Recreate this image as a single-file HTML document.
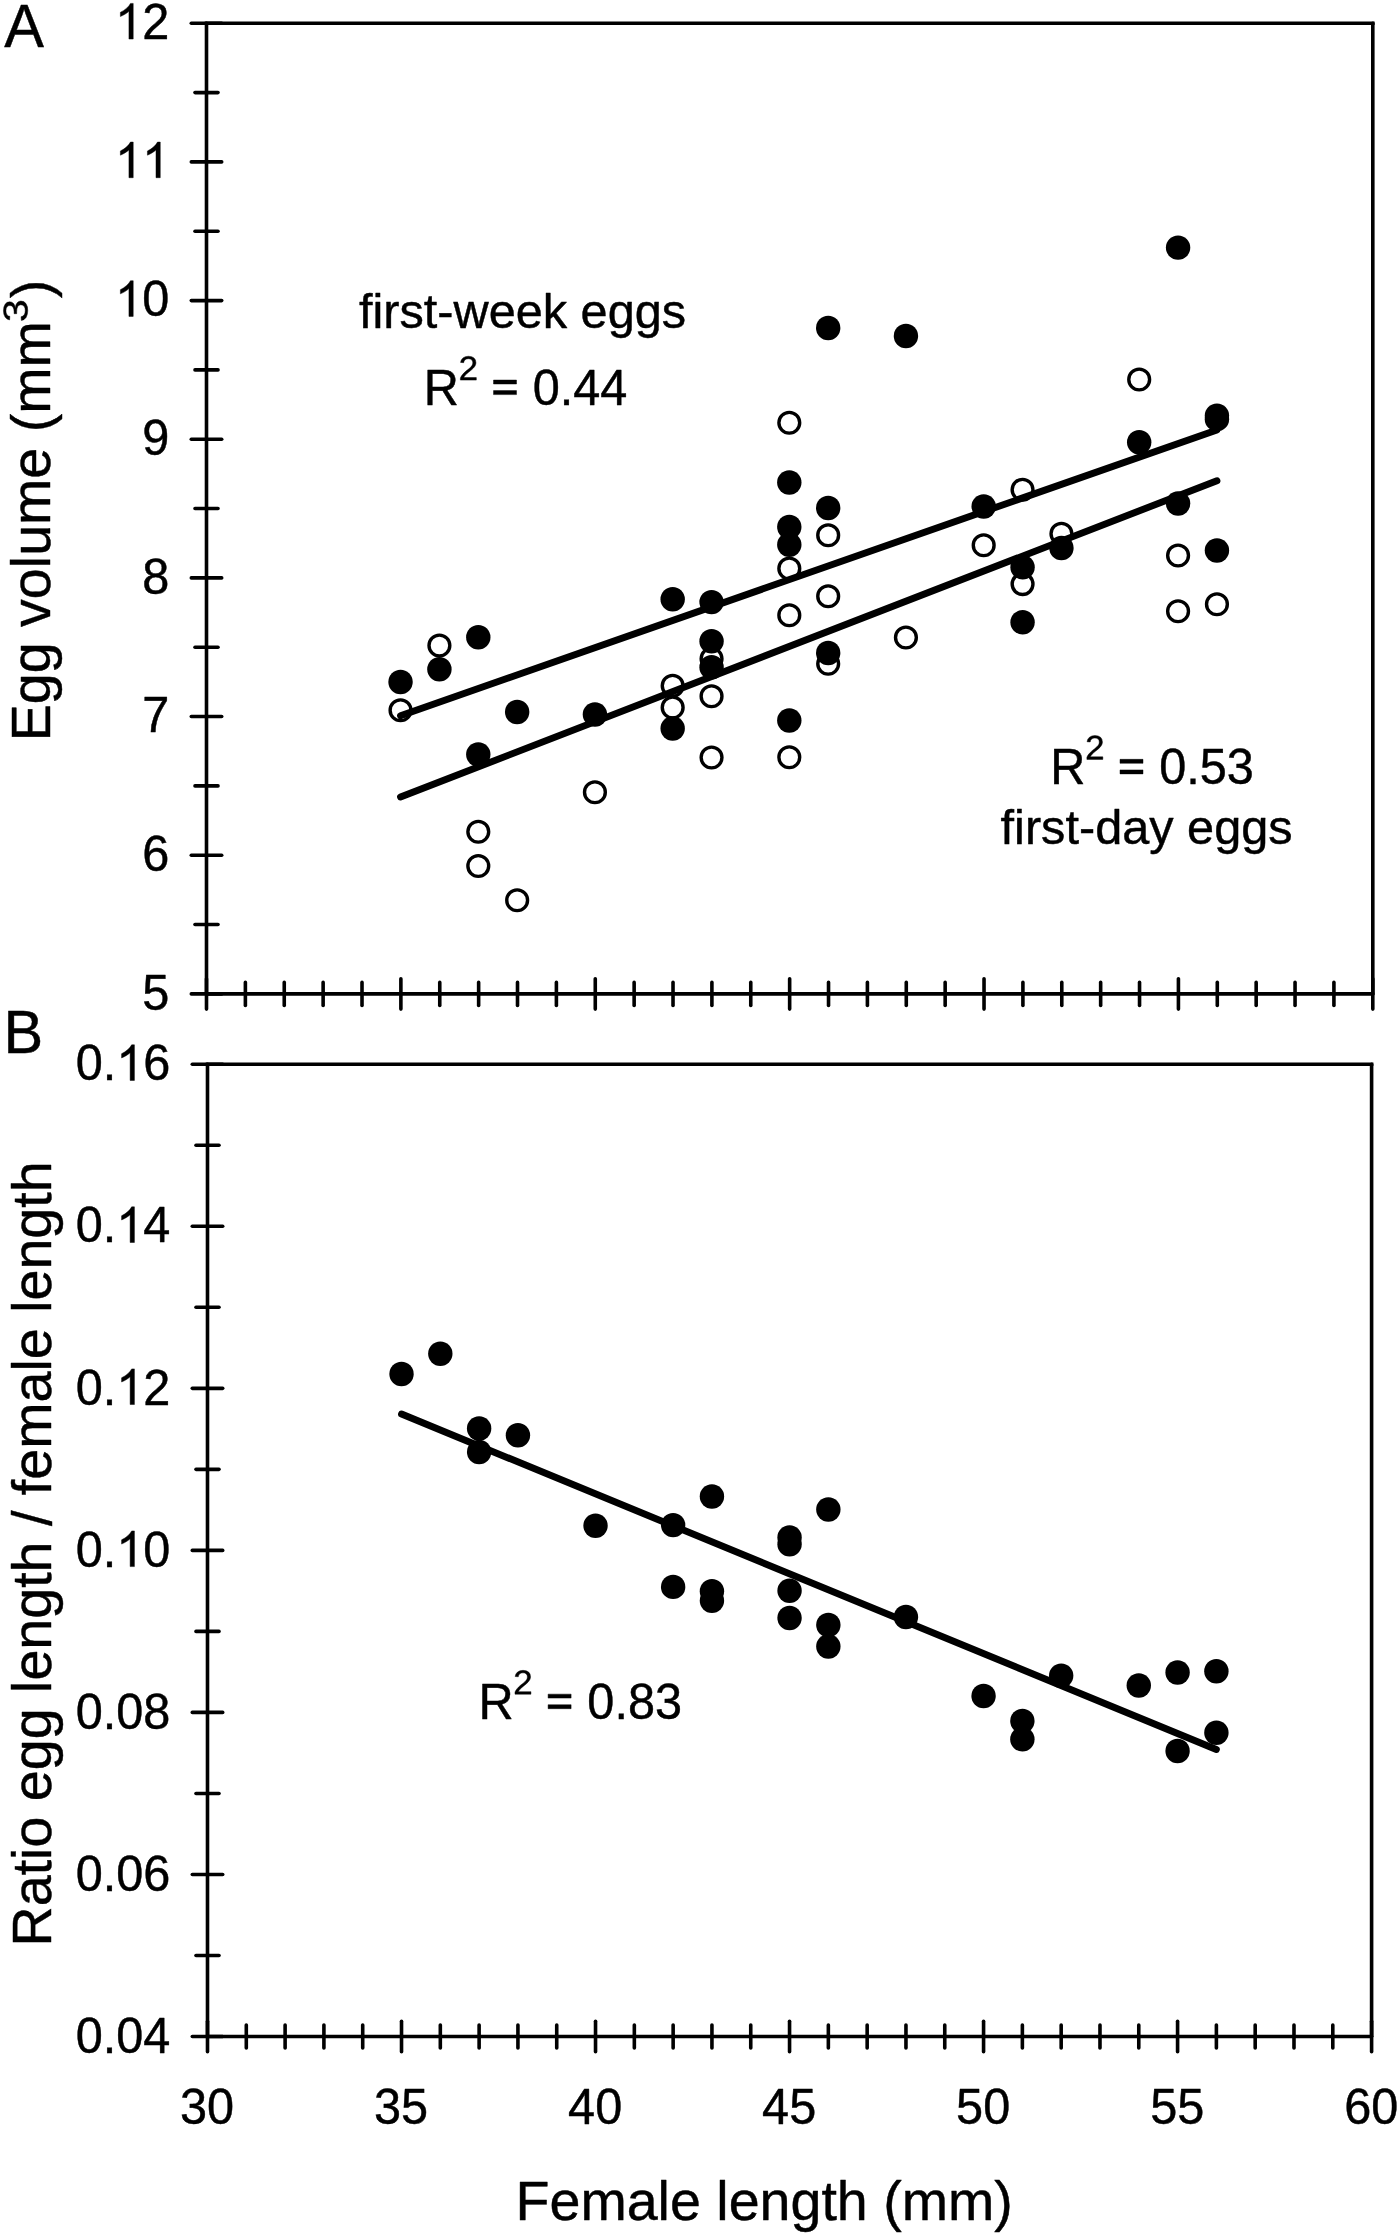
<!DOCTYPE html>
<html>
<head>
<meta charset="utf-8">
<title>Figure</title>
<style>
html, body { margin: 0; padding: 0; background: #fff; }
body { width: 1400px; height: 2235px; overflow: hidden; font-family: "Liberation Sans", sans-serif; }
svg { display: block; }
svg text, svg path { stroke: #000; stroke-width: 0.45px; stroke-linejoin: round; vector-effect: non-scaling-stroke; }
</style>
</head>
<body>
<svg width="1400" height="2235" viewBox="0 0 1400 2235" role="img" aria-label="Scatter plots of egg volume and egg/female length ratio against female length">
<rect x="0" y="0" width="1400" height="2235" fill="#fff"/>
<g font-family="'Liberation Sans', sans-serif" fill="#000" stroke="none">
<g fill="#fff" stroke="#000" stroke-width="3.4">
<circle cx="400.53" cy="710.25" r="10.4"/>
<circle cx="439.41" cy="645.5" r="10.4"/>
<circle cx="478.29" cy="831.75" r="10.4"/>
<circle cx="478.29" cy="866" r="10.4"/>
<circle cx="517.16" cy="900.25" r="10.4"/>
<circle cx="594.92" cy="792.25" r="10.4"/>
<circle cx="672.67" cy="685.75" r="10.4"/>
<circle cx="672.67" cy="707.5" r="10.4"/>
<circle cx="711.55" cy="658.75" r="10.4"/>
<circle cx="711.55" cy="696.25" r="10.4"/>
<circle cx="711.55" cy="757.5" r="10.4"/>
<circle cx="789.3" cy="422.75" r="10.4"/>
<circle cx="789.3" cy="568.5" r="10.4"/>
<circle cx="789.3" cy="615.25" r="10.4"/>
<circle cx="789.3" cy="757.25" r="10.4"/>
<circle cx="828.18" cy="535.25" r="10.4"/>
<circle cx="828.18" cy="596.25" r="10.4"/>
<circle cx="828.18" cy="663.75" r="10.4"/>
<circle cx="905.93" cy="637.5" r="10.4"/>
<circle cx="983.68" cy="545.25" r="10.4"/>
<circle cx="1022.56" cy="489.75" r="10.4"/>
<circle cx="1022.56" cy="584.1" r="10.4"/>
<circle cx="1061.44" cy="533.75" r="10.4"/>
<circle cx="1139.19" cy="379.5" r="10.4"/>
<circle cx="1178.07" cy="555.5" r="10.4"/>
<circle cx="1178.07" cy="611.25" r="10.4"/>
<circle cx="1216.94" cy="604.25" r="10.4"/>
</g>
<g fill="#000">
<circle cx="400.53" cy="682" r="12.2"/>
<circle cx="439.41" cy="669.25" r="12.2"/>
<circle cx="478.29" cy="637.25" r="12.2"/>
<circle cx="478.29" cy="754.5" r="12.2"/>
<circle cx="517.16" cy="712" r="12.2"/>
<circle cx="594.92" cy="714.5" r="12.2"/>
<circle cx="672.67" cy="599.25" r="12.2"/>
<circle cx="672.67" cy="728.5" r="12.2"/>
<circle cx="711.55" cy="602.1" r="12.2"/>
<circle cx="711.55" cy="641.25" r="12.2"/>
<circle cx="711.55" cy="667.25" r="12.2"/>
<circle cx="789.3" cy="482.5" r="12.2"/>
<circle cx="789.3" cy="527" r="12.2"/>
<circle cx="789.3" cy="544.75" r="12.2"/>
<circle cx="789.3" cy="720.5" r="12.2"/>
<circle cx="828.18" cy="328" r="12.2"/>
<circle cx="828.18" cy="508" r="12.2"/>
<circle cx="828.18" cy="653" r="12.2"/>
<circle cx="905.93" cy="336" r="12.2"/>
<circle cx="983.68" cy="506.5" r="12.2"/>
<circle cx="1022.56" cy="567.25" r="12.2"/>
<circle cx="1022.56" cy="622.25" r="12.2"/>
<circle cx="1061.44" cy="548" r="12.2"/>
<circle cx="1139.19" cy="442.25" r="12.2"/>
<circle cx="1178.07" cy="247.6" r="12.2"/>
<circle cx="1178.07" cy="503.5" r="12.2"/>
<circle cx="1216.94" cy="415.6" r="12.2"/>
<circle cx="1216.94" cy="419.2" r="12.2"/>
<circle cx="1216.94" cy="550.5" r="12.2"/>
</g>
<line x1="400.53" y1="715.75" x2="1216.94" y2="429.9" stroke="#000" stroke-width="6.9" stroke-linecap="round"/>
<line x1="400.53" y1="797" x2="1216.94" y2="480.75" stroke="#000" stroke-width="6.9" stroke-linecap="round"/>
<line x1="206.5" y1="23.25" x2="206.5" y2="993.9" stroke="#000" stroke-width="3.6" stroke-linecap="round"/>
<line x1="206.5" y1="23.25" x2="1372.8" y2="23.25" stroke="#000" stroke-width="3.6" stroke-linecap="square"/>
<line x1="1372.8" y1="23.25" x2="1372.8" y2="993.9" stroke="#000" stroke-width="3.6" stroke-linecap="round"/>
<line x1="206.5" y1="993.9" x2="1372.8" y2="993.9" stroke="#000" stroke-width="3.6" stroke-linecap="round"/>
<line x1="191.3" y1="23.25" x2="221.7" y2="23.25" stroke="#000" stroke-width="3.6" stroke-linecap="round"/>
<path transform="translate(115.09 39.05) scale(0.023755 -0.024218)" d="M763 0H583V1147Q518 1085 412.5 1023Q307 961 223 930V1104Q374 1175 487 1276Q600 1377 647 1472H763Z"/>
<text transform="translate(142.14 39.05) scale(1.0000 1.0350)" font-size="48.65" text-anchor="start">2</text>
<line x1="195" y1="92.58" x2="218" y2="92.58" stroke="#000" stroke-width="3.6" stroke-linecap="round"/>
<line x1="191.3" y1="161.91" x2="221.7" y2="161.91" stroke="#000" stroke-width="3.6" stroke-linecap="round"/>
<path transform="translate(115.09 177.71) scale(0.023755 -0.024218)" d="M763 0H583V1147Q518 1085 412.5 1023Q307 961 223 930V1104Q374 1175 487 1276Q600 1377 647 1472H763Z"/>
<path transform="translate(142.14 177.71) scale(0.023755 -0.024218)" d="M763 0H583V1147Q518 1085 412.5 1023Q307 961 223 930V1104Q374 1175 487 1276Q600 1377 647 1472H763Z"/>
<line x1="195" y1="231.25" x2="218" y2="231.25" stroke="#000" stroke-width="3.6" stroke-linecap="round"/>
<line x1="191.3" y1="300.58" x2="221.7" y2="300.58" stroke="#000" stroke-width="3.6" stroke-linecap="round"/>
<path transform="translate(115.09 316.38) scale(0.023755 -0.024218)" d="M763 0H583V1147Q518 1085 412.5 1023Q307 961 223 930V1104Q374 1175 487 1276Q600 1377 647 1472H763Z"/>
<text transform="translate(142.14 316.38) scale(1.0000 1.0350)" font-size="48.65" text-anchor="start">0</text>
<line x1="195" y1="369.91" x2="218" y2="369.91" stroke="#000" stroke-width="3.6" stroke-linecap="round"/>
<line x1="191.3" y1="439.24" x2="221.7" y2="439.24" stroke="#000" stroke-width="3.6" stroke-linecap="round"/>
<text transform="translate(142.14 455.04) scale(1.0000 1.0350)" font-size="48.65" text-anchor="start">9</text>
<line x1="195" y1="508.57" x2="218" y2="508.57" stroke="#000" stroke-width="3.6" stroke-linecap="round"/>
<line x1="191.3" y1="577.91" x2="221.7" y2="577.91" stroke="#000" stroke-width="3.6" stroke-linecap="round"/>
<text transform="translate(142.14 593.71) scale(1.0000 1.0350)" font-size="48.65" text-anchor="start">8</text>
<line x1="195" y1="647.24" x2="218" y2="647.24" stroke="#000" stroke-width="3.6" stroke-linecap="round"/>
<line x1="191.3" y1="716.57" x2="221.7" y2="716.57" stroke="#000" stroke-width="3.6" stroke-linecap="round"/>
<text transform="translate(142.14 732.37) scale(1.0000 1.0350)" font-size="48.65" text-anchor="start">7</text>
<line x1="195" y1="785.9" x2="218" y2="785.9" stroke="#000" stroke-width="3.6" stroke-linecap="round"/>
<line x1="191.3" y1="855.24" x2="221.7" y2="855.24" stroke="#000" stroke-width="3.6" stroke-linecap="round"/>
<text transform="translate(142.14 871.04) scale(1.0000 1.0350)" font-size="48.65" text-anchor="start">6</text>
<line x1="195" y1="924.57" x2="218" y2="924.57" stroke="#000" stroke-width="3.6" stroke-linecap="round"/>
<line x1="191.3" y1="993.9" x2="221.7" y2="993.9" stroke="#000" stroke-width="3.6" stroke-linecap="round"/>
<text transform="translate(142.14 1009.7) scale(1.0000 1.0350)" font-size="48.65" text-anchor="start">5</text>
<line x1="206.5" y1="978.7" x2="206.5" y2="1009.1" stroke="#000" stroke-width="3.6" stroke-linecap="round"/>
<line x1="245.38" y1="982.4" x2="245.38" y2="1005.4" stroke="#000" stroke-width="3.6" stroke-linecap="round"/>
<line x1="284.25" y1="982.4" x2="284.25" y2="1005.4" stroke="#000" stroke-width="3.6" stroke-linecap="round"/>
<line x1="323.13" y1="982.4" x2="323.13" y2="1005.4" stroke="#000" stroke-width="3.6" stroke-linecap="round"/>
<line x1="362.01" y1="982.4" x2="362.01" y2="1005.4" stroke="#000" stroke-width="3.6" stroke-linecap="round"/>
<line x1="400.88" y1="978.7" x2="400.88" y2="1009.1" stroke="#000" stroke-width="3.6" stroke-linecap="round"/>
<line x1="439.76" y1="982.4" x2="439.76" y2="1005.4" stroke="#000" stroke-width="3.6" stroke-linecap="round"/>
<line x1="478.64" y1="982.4" x2="478.64" y2="1005.4" stroke="#000" stroke-width="3.6" stroke-linecap="round"/>
<line x1="517.51" y1="982.4" x2="517.51" y2="1005.4" stroke="#000" stroke-width="3.6" stroke-linecap="round"/>
<line x1="556.39" y1="982.4" x2="556.39" y2="1005.4" stroke="#000" stroke-width="3.6" stroke-linecap="round"/>
<line x1="595.27" y1="978.7" x2="595.27" y2="1009.1" stroke="#000" stroke-width="3.6" stroke-linecap="round"/>
<line x1="634.14" y1="982.4" x2="634.14" y2="1005.4" stroke="#000" stroke-width="3.6" stroke-linecap="round"/>
<line x1="673.02" y1="982.4" x2="673.02" y2="1005.4" stroke="#000" stroke-width="3.6" stroke-linecap="round"/>
<line x1="711.9" y1="982.4" x2="711.9" y2="1005.4" stroke="#000" stroke-width="3.6" stroke-linecap="round"/>
<line x1="750.77" y1="982.4" x2="750.77" y2="1005.4" stroke="#000" stroke-width="3.6" stroke-linecap="round"/>
<line x1="789.65" y1="978.7" x2="789.65" y2="1009.1" stroke="#000" stroke-width="3.6" stroke-linecap="round"/>
<line x1="828.53" y1="982.4" x2="828.53" y2="1005.4" stroke="#000" stroke-width="3.6" stroke-linecap="round"/>
<line x1="867.4" y1="982.4" x2="867.4" y2="1005.4" stroke="#000" stroke-width="3.6" stroke-linecap="round"/>
<line x1="906.28" y1="982.4" x2="906.28" y2="1005.4" stroke="#000" stroke-width="3.6" stroke-linecap="round"/>
<line x1="945.16" y1="982.4" x2="945.16" y2="1005.4" stroke="#000" stroke-width="3.6" stroke-linecap="round"/>
<line x1="984.03" y1="978.7" x2="984.03" y2="1009.1" stroke="#000" stroke-width="3.6" stroke-linecap="round"/>
<line x1="1022.91" y1="982.4" x2="1022.91" y2="1005.4" stroke="#000" stroke-width="3.6" stroke-linecap="round"/>
<line x1="1061.79" y1="982.4" x2="1061.79" y2="1005.4" stroke="#000" stroke-width="3.6" stroke-linecap="round"/>
<line x1="1100.66" y1="982.4" x2="1100.66" y2="1005.4" stroke="#000" stroke-width="3.6" stroke-linecap="round"/>
<line x1="1139.54" y1="982.4" x2="1139.54" y2="1005.4" stroke="#000" stroke-width="3.6" stroke-linecap="round"/>
<line x1="1178.42" y1="978.7" x2="1178.42" y2="1009.1" stroke="#000" stroke-width="3.6" stroke-linecap="round"/>
<line x1="1217.29" y1="982.4" x2="1217.29" y2="1005.4" stroke="#000" stroke-width="3.6" stroke-linecap="round"/>
<line x1="1256.17" y1="982.4" x2="1256.17" y2="1005.4" stroke="#000" stroke-width="3.6" stroke-linecap="round"/>
<line x1="1295.05" y1="982.4" x2="1295.05" y2="1005.4" stroke="#000" stroke-width="3.6" stroke-linecap="round"/>
<line x1="1333.92" y1="982.4" x2="1333.92" y2="1005.4" stroke="#000" stroke-width="3.6" stroke-linecap="round"/>
<line x1="1372.8" y1="978.7" x2="1372.8" y2="1009.1" stroke="#000" stroke-width="3.6" stroke-linecap="round"/>
<g fill="#000">
<circle cx="401.52" cy="1374" r="12.2"/>
<circle cx="440.32" cy="1353.75" r="12.2"/>
<circle cx="479.12" cy="1428.5" r="12.2"/>
<circle cx="479.12" cy="1452" r="12.2"/>
<circle cx="517.93" cy="1435.25" r="12.2"/>
<circle cx="595.53" cy="1525.75" r="12.2"/>
<circle cx="673.14" cy="1525.1" r="12.2"/>
<circle cx="673.14" cy="1586.9" r="12.2"/>
<circle cx="711.94" cy="1496.5" r="12.2"/>
<circle cx="711.94" cy="1591.25" r="12.2"/>
<circle cx="711.94" cy="1600.75" r="12.2"/>
<circle cx="789.55" cy="1537.5" r="12.2"/>
<circle cx="789.55" cy="1544.25" r="12.2"/>
<circle cx="789.55" cy="1590.75" r="12.2"/>
<circle cx="789.55" cy="1618" r="12.2"/>
<circle cx="828.35" cy="1509.5" r="12.2"/>
<circle cx="828.35" cy="1625" r="12.2"/>
<circle cx="828.35" cy="1646.5" r="12.2"/>
<circle cx="905.96" cy="1617" r="12.2"/>
<circle cx="983.57" cy="1696" r="12.2"/>
<circle cx="1022.37" cy="1721" r="12.2"/>
<circle cx="1022.37" cy="1739.25" r="12.2"/>
<circle cx="1061.17" cy="1675.75" r="12.2"/>
<circle cx="1138.78" cy="1685.5" r="12.2"/>
<circle cx="1177.58" cy="1672.5" r="12.2"/>
<circle cx="1177.58" cy="1751" r="12.2"/>
<circle cx="1216.39" cy="1671.25" r="12.2"/>
<circle cx="1216.39" cy="1732.75" r="12.2"/>
</g>
<line x1="401.52" y1="1414" x2="1216.39" y2="1749.5" stroke="#000" stroke-width="6.9" stroke-linecap="round"/>
<line x1="207.5" y1="1064.25" x2="207.5" y2="2036.5" stroke="#000" stroke-width="3.6" stroke-linecap="round"/>
<line x1="207.5" y1="1064.25" x2="1371.6" y2="1064.25" stroke="#000" stroke-width="3.6" stroke-linecap="square"/>
<line x1="1371.6" y1="1064.25" x2="1371.6" y2="2036.5" stroke="#000" stroke-width="3.6" stroke-linecap="round"/>
<line x1="207.5" y1="2036.5" x2="1371.6" y2="2036.5" stroke="#000" stroke-width="3.6" stroke-linecap="round"/>
<line x1="192.3" y1="1064.25" x2="222.7" y2="1064.25" stroke="#000" stroke-width="3.6" stroke-linecap="round"/>
<text transform="translate(75.71 1080.45) scale(1.0000 1.0350)" font-size="48.65" text-anchor="start">0.</text>
<path transform="translate(116.29 1080.45) scale(0.023755 -0.024218)" d="M763 0H583V1147Q518 1085 412.5 1023Q307 961 223 930V1104Q374 1175 487 1276Q600 1377 647 1472H763Z"/>
<text transform="translate(143.34 1080.45) scale(1.0000 1.0350)" font-size="48.65" text-anchor="start">6</text>
<line x1="196" y1="1145.27" x2="219" y2="1145.27" stroke="#000" stroke-width="3.6" stroke-linecap="round"/>
<line x1="192.3" y1="1226.29" x2="222.7" y2="1226.29" stroke="#000" stroke-width="3.6" stroke-linecap="round"/>
<text transform="translate(75.71 1242.49) scale(1.0000 1.0350)" font-size="48.65" text-anchor="start">0.</text>
<path transform="translate(116.29 1242.49) scale(0.023755 -0.024218)" d="M763 0H583V1147Q518 1085 412.5 1023Q307 961 223 930V1104Q374 1175 487 1276Q600 1377 647 1472H763Z"/>
<text transform="translate(143.34 1242.49) scale(1.0000 1.0350)" font-size="48.65" text-anchor="start">4</text>
<line x1="196" y1="1307.31" x2="219" y2="1307.31" stroke="#000" stroke-width="3.6" stroke-linecap="round"/>
<line x1="192.3" y1="1388.33" x2="222.7" y2="1388.33" stroke="#000" stroke-width="3.6" stroke-linecap="round"/>
<text transform="translate(75.71 1404.53) scale(1.0000 1.0350)" font-size="48.65" text-anchor="start">0.</text>
<path transform="translate(116.29 1404.53) scale(0.023755 -0.024218)" d="M763 0H583V1147Q518 1085 412.5 1023Q307 961 223 930V1104Q374 1175 487 1276Q600 1377 647 1472H763Z"/>
<text transform="translate(143.34 1404.53) scale(1.0000 1.0350)" font-size="48.65" text-anchor="start">2</text>
<line x1="196" y1="1469.35" x2="219" y2="1469.35" stroke="#000" stroke-width="3.6" stroke-linecap="round"/>
<line x1="192.3" y1="1550.38" x2="222.7" y2="1550.38" stroke="#000" stroke-width="3.6" stroke-linecap="round"/>
<text transform="translate(75.71 1566.58) scale(1.0000 1.0350)" font-size="48.65" text-anchor="start">0.</text>
<path transform="translate(116.29 1566.58) scale(0.023755 -0.024218)" d="M763 0H583V1147Q518 1085 412.5 1023Q307 961 223 930V1104Q374 1175 487 1276Q600 1377 647 1472H763Z"/>
<text transform="translate(143.34 1566.58) scale(1.0000 1.0350)" font-size="48.65" text-anchor="start">0</text>
<line x1="196" y1="1631.4" x2="219" y2="1631.4" stroke="#000" stroke-width="3.6" stroke-linecap="round"/>
<line x1="192.3" y1="1712.42" x2="222.7" y2="1712.42" stroke="#000" stroke-width="3.6" stroke-linecap="round"/>
<text transform="translate(75.71 1728.62) scale(1.0000 1.0350)" font-size="48.65" text-anchor="start">0.08</text>
<line x1="196" y1="1793.44" x2="219" y2="1793.44" stroke="#000" stroke-width="3.6" stroke-linecap="round"/>
<line x1="192.3" y1="1874.46" x2="222.7" y2="1874.46" stroke="#000" stroke-width="3.6" stroke-linecap="round"/>
<text transform="translate(75.71 1890.66) scale(1.0000 1.0350)" font-size="48.65" text-anchor="start">0.06</text>
<line x1="196" y1="1955.48" x2="219" y2="1955.48" stroke="#000" stroke-width="3.6" stroke-linecap="round"/>
<line x1="192.3" y1="2036.5" x2="222.7" y2="2036.5" stroke="#000" stroke-width="3.6" stroke-linecap="round"/>
<text transform="translate(75.71 2052.7) scale(1.0000 1.0350)" font-size="48.65" text-anchor="start">0.04</text>
<line x1="207.5" y1="2021.3" x2="207.5" y2="2051.7" stroke="#000" stroke-width="3.6" stroke-linecap="round"/>
<text transform="translate(180.04 2124) scale(1.0000 1.0350)" font-size="48.65" text-anchor="start">30</text>
<line x1="246.3" y1="2025" x2="246.3" y2="2048" stroke="#000" stroke-width="3.6" stroke-linecap="round"/>
<line x1="285.11" y1="2025" x2="285.11" y2="2048" stroke="#000" stroke-width="3.6" stroke-linecap="round"/>
<line x1="323.91" y1="2025" x2="323.91" y2="2048" stroke="#000" stroke-width="3.6" stroke-linecap="round"/>
<line x1="362.71" y1="2025" x2="362.71" y2="2048" stroke="#000" stroke-width="3.6" stroke-linecap="round"/>
<line x1="401.52" y1="2021.3" x2="401.52" y2="2051.7" stroke="#000" stroke-width="3.6" stroke-linecap="round"/>
<text transform="translate(374.06 2124) scale(1.0000 1.0350)" font-size="48.65" text-anchor="start">35</text>
<line x1="440.32" y1="2025" x2="440.32" y2="2048" stroke="#000" stroke-width="3.6" stroke-linecap="round"/>
<line x1="479.12" y1="2025" x2="479.12" y2="2048" stroke="#000" stroke-width="3.6" stroke-linecap="round"/>
<line x1="517.93" y1="2025" x2="517.93" y2="2048" stroke="#000" stroke-width="3.6" stroke-linecap="round"/>
<line x1="556.73" y1="2025" x2="556.73" y2="2048" stroke="#000" stroke-width="3.6" stroke-linecap="round"/>
<line x1="595.53" y1="2021.3" x2="595.53" y2="2051.7" stroke="#000" stroke-width="3.6" stroke-linecap="round"/>
<text transform="translate(568.08 2124) scale(1.0000 1.0350)" font-size="48.65" text-anchor="start">40</text>
<line x1="634.34" y1="2025" x2="634.34" y2="2048" stroke="#000" stroke-width="3.6" stroke-linecap="round"/>
<line x1="673.14" y1="2025" x2="673.14" y2="2048" stroke="#000" stroke-width="3.6" stroke-linecap="round"/>
<line x1="711.94" y1="2025" x2="711.94" y2="2048" stroke="#000" stroke-width="3.6" stroke-linecap="round"/>
<line x1="750.75" y1="2025" x2="750.75" y2="2048" stroke="#000" stroke-width="3.6" stroke-linecap="round"/>
<line x1="789.55" y1="2021.3" x2="789.55" y2="2051.7" stroke="#000" stroke-width="3.6" stroke-linecap="round"/>
<text transform="translate(762.09 2124) scale(1.0000 1.0350)" font-size="48.65" text-anchor="start">45</text>
<line x1="828.35" y1="2025" x2="828.35" y2="2048" stroke="#000" stroke-width="3.6" stroke-linecap="round"/>
<line x1="867.16" y1="2025" x2="867.16" y2="2048" stroke="#000" stroke-width="3.6" stroke-linecap="round"/>
<line x1="905.96" y1="2025" x2="905.96" y2="2048" stroke="#000" stroke-width="3.6" stroke-linecap="round"/>
<line x1="944.76" y1="2025" x2="944.76" y2="2048" stroke="#000" stroke-width="3.6" stroke-linecap="round"/>
<line x1="983.57" y1="2021.3" x2="983.57" y2="2051.7" stroke="#000" stroke-width="3.6" stroke-linecap="round"/>
<text transform="translate(956.11 2124) scale(1.0000 1.0350)" font-size="48.65" text-anchor="start">50</text>
<line x1="1022.37" y1="2025" x2="1022.37" y2="2048" stroke="#000" stroke-width="3.6" stroke-linecap="round"/>
<line x1="1061.17" y1="2025" x2="1061.17" y2="2048" stroke="#000" stroke-width="3.6" stroke-linecap="round"/>
<line x1="1099.98" y1="2025" x2="1099.98" y2="2048" stroke="#000" stroke-width="3.6" stroke-linecap="round"/>
<line x1="1138.78" y1="2025" x2="1138.78" y2="2048" stroke="#000" stroke-width="3.6" stroke-linecap="round"/>
<line x1="1177.58" y1="2021.3" x2="1177.58" y2="2051.7" stroke="#000" stroke-width="3.6" stroke-linecap="round"/>
<text transform="translate(1150.13 2124) scale(1.0000 1.0350)" font-size="48.65" text-anchor="start">55</text>
<line x1="1216.39" y1="2025" x2="1216.39" y2="2048" stroke="#000" stroke-width="3.6" stroke-linecap="round"/>
<line x1="1255.19" y1="2025" x2="1255.19" y2="2048" stroke="#000" stroke-width="3.6" stroke-linecap="round"/>
<line x1="1293.99" y1="2025" x2="1293.99" y2="2048" stroke="#000" stroke-width="3.6" stroke-linecap="round"/>
<line x1="1332.8" y1="2025" x2="1332.8" y2="2048" stroke="#000" stroke-width="3.6" stroke-linecap="round"/>
<line x1="1371.6" y1="2021.3" x2="1371.6" y2="2051.7" stroke="#000" stroke-width="3.6" stroke-linecap="round"/>
<text transform="translate(1344.14 2124) scale(1.0000 1.0350)" font-size="48.65" text-anchor="start">60</text>
<text transform="translate(4.3 46.5) scale(1.0000 1.0400)" font-size="59.5" text-anchor="start">A</text>
<text transform="translate(3.6 1052.6) scale(1.0000 1.0400)" font-size="59.5" text-anchor="start">B</text>
<text x="515.5" y="2220.2" font-size="55.6" text-anchor="start">Female length (mm)</text>
<text x="359" y="327.5" font-size="48.65" text-anchor="start">first-week eggs</text>
<text transform="translate(423.8 404.5) scale(1.0000 1.0350)" font-size="48.65" text-anchor="start">R</text>
<path transform="translate(458.63 380.1) scale(0.017080 -0.016677)" d="M103 0V127Q154 244 227.5 333.5Q301 423 382 495.5Q463 568 542.5 630Q622 692 686 754Q750 816 789.5 884Q829 952 829 1038Q829 1154 761 1218Q693 1282 572 1282Q457 1282 382.5 1219.5Q308 1157 295 1044L111 1061Q131 1230 254.5 1330Q378 1430 572 1430Q785 1430 899.5 1329.5Q1014 1229 1014 1044Q1014 962 976.5 881Q939 800 865 719Q791 638 582 468Q467 374 399 298.5Q331 223 301 153H1036V0Z"/>
<path transform="translate(490.8 404.5) scale(0.023755 -0.023755)" d="M1082 862H114V1030H1082ZM1082 417H114V585H1082Z"/>
<text transform="translate(532.73 404.5) scale(1.0000 1.0350)" font-size="48.65" text-anchor="start">0.44</text>
<text transform="translate(1050.3 783.8) scale(1.0000 1.0350)" font-size="48.65" text-anchor="start">R</text>
<path transform="translate(1085.13 759.4) scale(0.017080 -0.016677)" d="M103 0V127Q154 244 227.5 333.5Q301 423 382 495.5Q463 568 542.5 630Q622 692 686 754Q750 816 789.5 884Q829 952 829 1038Q829 1154 761 1218Q693 1282 572 1282Q457 1282 382.5 1219.5Q308 1157 295 1044L111 1061Q131 1230 254.5 1330Q378 1430 572 1430Q785 1430 899.5 1329.5Q1014 1229 1014 1044Q1014 962 976.5 881Q939 800 865 719Q791 638 582 468Q467 374 399 298.5Q331 223 301 153H1036V0Z"/>
<path transform="translate(1117.3 783.8) scale(0.023755 -0.023755)" d="M1082 862H114V1030H1082ZM1082 417H114V585H1082Z"/>
<text transform="translate(1159.23 783.8) scale(1.0000 1.0350)" font-size="48.65" text-anchor="start">0.53</text>
<text x="1000.6" y="843.5" font-size="48.65" text-anchor="start">first-day eggs</text>
<text transform="translate(478.4 1718.6) scale(1.0000 1.0350)" font-size="48.65" text-anchor="start">R</text>
<path transform="translate(513.23 1694.2) scale(0.017080 -0.016677)" d="M103 0V127Q154 244 227.5 333.5Q301 423 382 495.5Q463 568 542.5 630Q622 692 686 754Q750 816 789.5 884Q829 952 829 1038Q829 1154 761 1218Q693 1282 572 1282Q457 1282 382.5 1219.5Q308 1157 295 1044L111 1061Q131 1230 254.5 1330Q378 1430 572 1430Q785 1430 899.5 1329.5Q1014 1229 1014 1044Q1014 962 976.5 881Q939 800 865 719Q791 638 582 468Q467 374 399 298.5Q331 223 301 153H1036V0Z"/>
<path transform="translate(545.4 1718.6) scale(0.023755 -0.023755)" d="M1082 862H114V1030H1082ZM1082 417H114V585H1082Z"/>
<text transform="translate(587.33 1718.6) scale(1.0000 1.0350)" font-size="48.65" text-anchor="start">0.83</text>
<g transform="translate(49.8 741.3) rotate(-90)">
<text x="0" y="0" font-size="55.6">Egg volume (mm</text>
<path transform="translate(419.3 -22.4) scale(0.019980 -0.016748)" d="M1049 389Q1049 194 925 87Q801 -20 571 -20Q357 -20 229.5 76.5Q102 173 78 362L264 379Q300 129 571 129Q707 129 784.5 196Q862 263 862 395Q862 510 773.5 574.5Q685 639 518 639H416V795H514Q662 795 743.5 859.5Q825 924 825 1038Q825 1151 758.5 1216.5Q692 1282 561 1282Q442 1282 368.5 1221Q295 1160 283 1049L102 1063Q122 1236 245.5 1333Q369 1430 563 1430Q775 1430 892.5 1331.5Q1010 1233 1010 1057Q1010 922 934.5 837.5Q859 753 715 723V719Q873 702 961 613Q1049 524 1049 389Z"/>
<text x="443.1" y="0" font-size="55.6">)</text>
</g>
<text transform="translate(51.2 1946.4) rotate(-90)" font-size="55.6">Ratio egg length / female length</text>
</g>
</svg>
</body>
</html>
